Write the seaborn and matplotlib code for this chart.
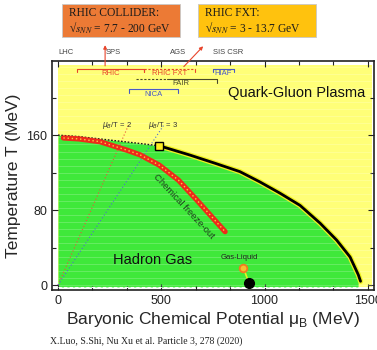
import matplotlib
matplotlib.use('Agg')
import matplotlib.pyplot as plt
import seaborn as sns
import numpy as np
import pandas as pd
from matplotlib.patches import Rectangle
from matplotlib.ticker import MultipleLocator

# ---- data ----
crossover_mu = [0, 100, 200, 300, 400, 491]
crossover_T = [160, 158.5, 156, 153.5, 151, 148.6]

first_order_mu = [491, 560, 639, 760, 881, 978, 1075, 1172, 1269, 1349, 1414, 1454, 1465]
first_order_T = [148.6, 144, 138.7, 130, 121, 110, 98, 85, 66, 48, 30, 11, 4]

freezeout_mu = [26, 100, 203, 333, 397, 490, 583, 671, 752, 809]
freezeout_T = [157, 156, 153, 144, 139, 128, 112, 91, 71, 57]

crit_point = (491, 148.6)
gas_liquid_cp = (897, 18)
nuclear_matter = (926, 2)

ratio_values = [2, 3]
ratio_colors = ['#e8553a', '#4f6fd0']
ratio_label_mu = [285, 508]

# experiments: name, start, end, T level, colour, linestyle
facilities = ['RHIC', 'RHIC FXT', 'HIAF', 'FAIR', 'NICA']
fac_start = [92, 416, 751, 378, 344]
fac_end = [416, 663, 852, 770, 581]
fac_T = [231, 231, 231, 220, 209]
fac_color = ['#e8452c', '#e8452c', '#4a5bc4', '#4a4a2a', '#4a5bc4']
fac_style = ['-', '--', '-', '-', '-']

top_labels = ['LHC', 'SPS', 'AGS', 'SIS CSR']
top_label_mu = [39, 266, 581, 823]

sns.set_theme(style='ticks')
plt.rcParams['font.family'] = ['Liberation Sans', 'DejaVu Sans']

fig = plt.figure(figsize=(3.77, 3.5), dpi=100)
ax = fig.add_axes([0.138, 0.1714, 0.854, 0.654])
ax.set_xlim(-29, 1530)
ax.set_ylim(-5.3, 239)

# background regions
yellow = '#ffff78'
green = '#3fe83a'
ax.add_patch(Rectangle((0, -2), 1520, 237, facecolor=yellow, edgecolor='none', zorder=0))
bound_mu = crossover_mu + first_order_mu[1:-1] + [1453]
bound_T = crossover_T + first_order_T[1:-1] + [-2]
ax.fill_between(bound_mu, bound_T, -2, color=green, lw=0, zorder=0.5)
ax.hlines(np.arange(0, 235, 7.5), 0, 1520, color='white', lw=0.4, alpha=0.35, zorder=0.6)
ax.hlines(-2, 0, 1520, color='white', lw=0.8, ls=(0, (3, 2)), zorder=0.7)

# mu_B/T lines
for r, c, lm in zip(ratio_values, ratio_colors, ratio_label_mu):
    tt = np.array([0, 171])
    ax.plot(tt * r, tt, color=c, lw=0.8, ls=(0, (1, 2)), zorder=1)
    ax.text(lm, 170, r'$\mu_B$/T = %d' % r, fontsize=5.5, ha='center', va='center',
            color='#333333')

# crossover (dotted)
sns.lineplot(x=crossover_mu, y=crossover_T, ax=ax, color='#1a1a1a', lw=1.0,
             ls=(0, (1.2, 1.2)), sort=False, zorder=2)

# first-order phase boundary
fo = pd.DataFrame({'mu': first_order_mu, 'T': first_order_T})
sns.lineplot(data=fo, x='mu', y='T', ax=ax, color='#f0f020', lw=3.8, sort=False, zorder=2)
sns.lineplot(data=fo, x='mu', y='T', ax=ax, color='black', lw=2.0, sort=False, zorder=3)

# chemical freeze-out
fz = pd.DataFrame({'mu': freezeout_mu, 'T': freezeout_T})
sns.lineplot(data=fz, x='mu', y='T', ax=ax, color='#ee2a1a', lw=3.8, sort=False, zorder=3)
sns.lineplot(data=fz, x='mu', y='T', ax=ax, color='#f5d040', lw=1.0,
             ls=(0, (1, 2)), sort=False, zorder=4)
ax.text(610, 84, 'Chemical freeze-out', rotation=-47, fontsize=6.8, color='#1f3d1f',
        ha='center', va='center', rotation_mode='anchor')

# critical point and nuclear liquid-gas
ax.plot(*crit_point, marker='s', ms=6, mfc='#ffee22', mec='black', mew=1.0, zorder=5)
ax.plot([gas_liquid_cp[0], 905, 915, nuclear_matter[0]],
        [gas_liquid_cp[1], 14, 8, nuclear_matter[1]], color='#e8f020', lw=1.2, zorder=4)
ax.plot(*gas_liquid_cp, marker='o', ms=5.5, mfc='#f5c030', mec='#f07a20', mew=1.3, zorder=5)
ax.plot(*nuclear_matter, marker='o', ms=7, color='black', zorder=5)
ax.text(876, 26, 'Gas-Liquid', fontsize=5.5, ha='center', va='bottom', color='#222222')

ax.text(1157, 205, 'Quark-Gluon Plasma', fontsize=10.5, ha='center', va='center', color='#111111')
ax.text(460, 27, 'Hadron Gas', fontsize=10.5, ha='center', va='center', color='#111111')

# facility brackets
for name, s, e, t, c, st in zip(facilities, fac_start, fac_end, fac_T, fac_color, fac_style):
    if name == 'FAIR':
        ax.plot([s, 530], [t, t], color=c, lw=0.8, ls=(0, (2, 1.5)))
        ax.plot([530, e], [t, t], color=c, lw=0.8)
        ax.plot([e, e], [t, t - 4], color=c, lw=0.8)
        ax.text((s + e) / 2 + 20, t - 1.5, name, fontsize=5.5, color=c, ha='center', va='top')
        continue
    ax.plot([s, e], [t, t], color=c, lw=0.8, ls=st if st == '-' else (0, (2, 1.5)))
    ax.plot([s, s], [t, t - 4], color=c, lw=0.8)
    ax.plot([e, e], [t, t - 4], color=c, lw=0.8)
    ax.text((s + e) / 2, t - 1.5, name, fontsize=5.5, color=c, ha='center', va='top')

for lab, m in zip(top_labels, top_label_mu):
    ax.text(m, 244, lab, fontsize=5.5, color='#444444', ha='center', va='bottom', clip_on=False)

# arrows to the boxes
ax.annotate('', xy=(228, 259), xytext=(228, 231), annotation_clip=False,
            arrowprops=dict(arrowstyle='-|>', color='#e8452c', lw=0.8, mutation_scale=5))
ax.annotate('', xy=(712, 257), xytext=(600, 231), annotation_clip=False,
            arrowprops=dict(arrowstyle='-|>', color='#e8452c', lw=0.8, mutation_scale=5))

# axes styling
ax.set_xticks([0, 500, 1000, 1500])
ax.set_yticks([0, 80, 160])
ax.xaxis.set_minor_locator(MultipleLocator(500 / 3))
ax.yaxis.set_minor_locator(MultipleLocator(40))
ax.tick_params(which='both', direction='in', top=True, right=True, labelsize=9,
               width=0.8, colors='#222222')
ax.tick_params(which='major', length=4)
ax.tick_params(which='minor', length=3)
for sp in ax.spines.values():
    sp.set_linewidth(1.2)
    sp.set_color('#222222')
ax.set_xlabel('Baryonic Chemical Potential μ$_\\mathregular{B}$ (MeV)', fontsize=12.5, labelpad=2)
ax.set_ylabel('Temperature T (MeV)', fontsize=12.5, labelpad=4)

# boxes at the top
serif = ['Liberation Serif', 'DejaVu Serif']
fig.patches.append(Rectangle((0.164, 0.894), 0.313, 0.095, transform=fig.transFigure,
                             facecolor='#ec7a35', edgecolor='#c8c8c8', lw=0.6))
fig.patches.append(Rectangle((0.525, 0.894), 0.313, 0.095, transform=fig.transFigure,
                             facecolor='#ffc20e', edgecolor='#c8c8c8', lw=0.6))
fig.text(0.183, 0.962, 'RHIC COLLIDER:', fontsize=8.3, family=serif, va='center', color='#1a1a1a')
fig.text(0.183, 0.919, '√$s_{NN}$ = 7.7 - 200 GeV', fontsize=8.3, family=serif, va='center',
         color='#1a1a1a', math_fontfamily='stix')
fig.text(0.543, 0.962, 'RHIC FXT:', fontsize=8.3, family=serif, va='center', color='#1a1a1a')
fig.text(0.543, 0.919, '√$s_{NN}$ = 3 - 13.7 GeV', fontsize=8.3, family=serif, va='center',
         color='#1a1a1a', math_fontfamily='stix')

fig.text(0.133, 0.025, 'X.Luo, S.Shi, Nu Xu et al. Particle 3, 278 (2020)', fontsize=7,
         family=serif, color='#222222', va='center')

fig.savefig('out.png', dpi=100)
